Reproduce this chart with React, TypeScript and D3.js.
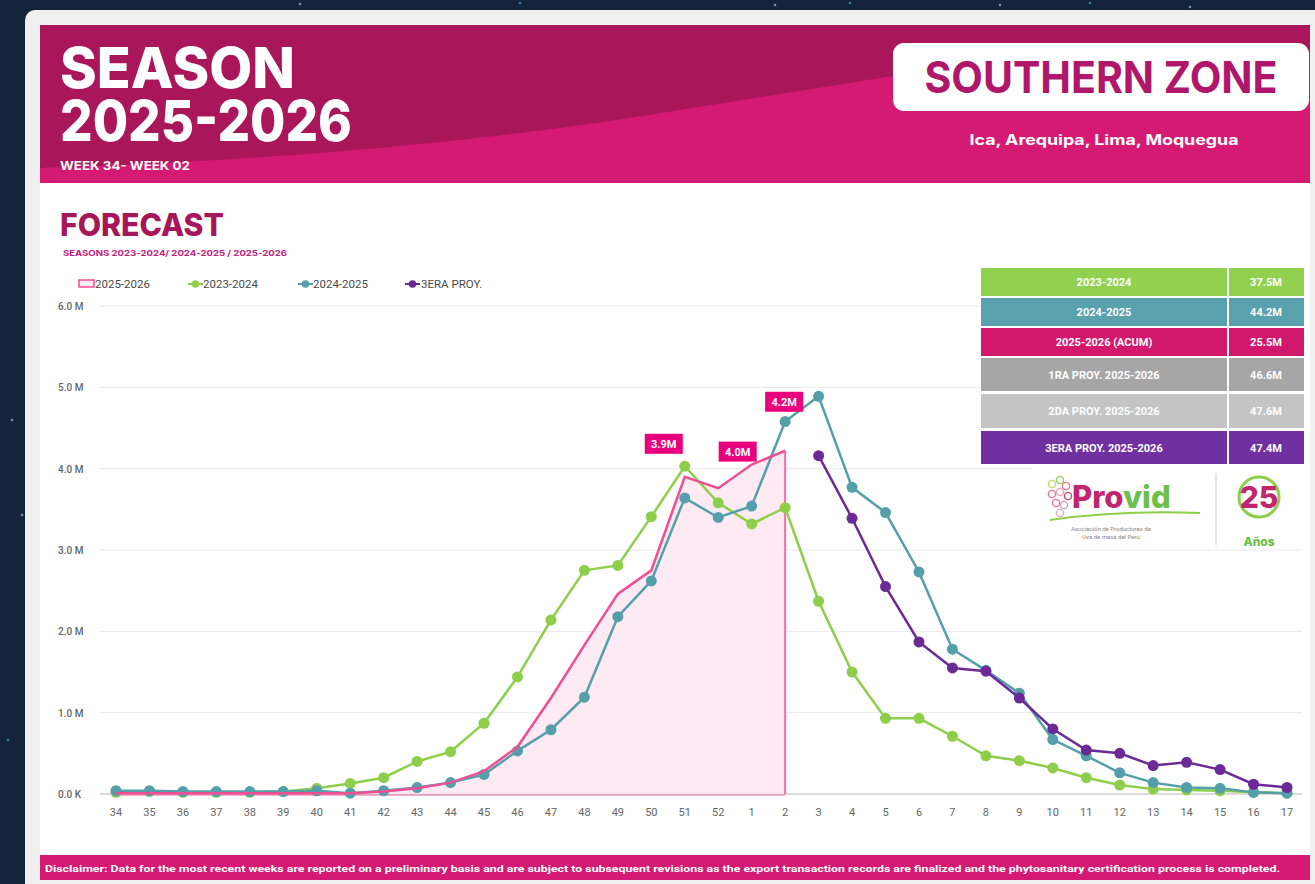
import React from "react";
import * as d3 from "d3";

const weeks = ["34","35","36","37","38","39","40","41","42","43","44","45","46","47","48","49","50","51","52","1","2","3","4","5","6","7","8","9","10","11","12","13","14","15","16","17"];

const s2023_2024 = [0.02,0.03,0.02,0.02,0.02,0.03,0.07,0.13,0.20,0.40,0.52,0.87,1.44,2.14,2.75,2.81,3.41,4.03,3.58,3.32,3.52,2.37,1.50,0.93,0.93,0.71,0.47,0.41,0.32,0.20,0.11,0.06,0.05,0.04,0.02,0.01];
const s2024_2025 = [0.04,0.04,0.03,0.03,0.03,0.03,0.04,0.01,0.04,0.08,0.14,0.24,0.53,0.79,1.19,2.18,2.62,3.64,3.40,3.54,4.58,4.89,3.77,3.46,2.73,1.78,1.52,1.24,0.67,0.47,0.26,0.14,0.08,0.07,0.02,0.01];
const s2025_2026: (number | null)[] = [0.01,0.01,0.01,0.01,0.01,0.01,0.01,0.01,0.03,0.07,0.14,0.28,0.58,1.18,1.83,2.46,2.75,3.90,3.76,4.05,4.22,null,null,null,null,null,null,null,null,null,null,null,null,null,null,null];
const s3eraProy: (number | null)[] = [null,null,null,null,null,null,null,null,null,null,null,null,null,null,null,null,null,null,null,null,null,4.16,3.39,2.55,1.87,1.55,1.51,1.18,0.80,0.54,0.50,0.35,0.39,0.30,0.12,0.08];

const yTicks = [0,1,2,3,4,5,6];
const yTickLabels = ["0.0 K","1.0 M","2.0 M","3.0 M","4.0 M","5.0 M","6.0 M"];

const pinkLabelWeeks = ["51","1","2"];
const pinkLabelTexts = ["3.9M","4.0M","4.2M"];

const legendNames = ["2025-2026","2023-2024","2024-2025","3ERA PROY."];

const tableLabels = ["2023-2024","2024-2025","2025-2026 (ACUM)","1RA PROY. 2025-2026","2DA PROY. 2025-2026","3ERA PROY. 2025-2026"];
const tableValues = ["37.5M","44.2M","25.5M","46.6M","47.6M","47.4M"];

const C = {
  green: "#8dcf4a",
  teal: "#559fab",
  purple: "#6c2a96",
  pink: "#ee4f93",
  pinkFill: "#fde9f2",
  magenta: "#d41a72",
  darkMag: "#a91659",
  label: "#e8007d",
};
const tableColors = ["#92d050", "#5aa1ae", "#d1186c", "#a6a6a6", "#c4c4c4", "#7030a0"];
const labelOffsets = [[-21, -33], [-14, -13], [-1, -49]];

export default function App() {
  const x = d3.scalePoint<string>().domain(weeks).range([116, 1287]);
  const y = d3.scaleLinear().domain([0, 6]).range([794, 306]);

  const mk = (arr: (number | null)[]) =>
    weeks.map((w, i) => ({ w, v: arr[i] }));

  const line = d3
    .line<{ w: string; v: number | null }>()
    .defined((d) => d.v !== null)
    .x((d) => x(d.w)!)
    .y((d) => y(d.v as number));

  const pinkPts = mk(s2025_2026).filter((d) => d.v !== null);
  const area = d3
    .area<{ w: string; v: number | null }>()
    .x((d) => x(d.w)!)
    .y0(y(0))
    .y1((d) => y(d.v as number));

  const series = [
    { data: s2023_2024, color: C.green },
    { data: s2024_2025, color: C.teal },
    { data: s3eraProy, color: C.purple },
  ];

  const font = "Roboto, 'Open Sans', sans-serif";
  const head = "Inter, 'Open Sans', sans-serif";

  const stars = [[40, 62], [70, 300], [22, 515], [60, 12], [300, 4], [520, 3], [775, 5], [850, 3], [1000, 5], [1090, 3], [1190, 7], [8, 740], [12, 420], [30, 620]];
  const last = pinkPts[pinkPts.length - 1];

  return (
    <svg width={1315} height={884} style={{ position: "absolute", left: 0, top: 0, display: "block" }}>
      <rect x={0} y={0} width={1315} height={884} fill="#13233a" />
      {stars.map(([sx, sy], i) => (
        <circle key={i} cx={sx} cy={sy} r={1.3} fill={i % 2 ? "#3aa6b8" : "#7fb8c8"} opacity={0.8} />
      ))}
      <rect x={25} y={10} width={1320} height={900} rx={10} fill="#f0f0f0" />
      <rect x={40} y={25} width={1270} height={830} fill="#ffffff" />

      {/* header */}
      <rect x={40} y={25} width={1270} height={158} fill={C.darkMag} />
      <path d="M40,168 Q 360,158 617,120 L 893,76 L1310,52 L1310,183 L40,183 Z" fill={C.magenta} />
      <text fill="#fff" fontFamily={head} fontWeight={800} fontSize={57}>
        <tspan x={60} y={88} textLength={235} lengthAdjust="spacingAndGlyphs">SEASON</tspan>
        <tspan x={60} y={141} textLength={292} lengthAdjust="spacingAndGlyphs">2025-2026</tspan>
      </text>
      <text x={60} y={170} fill="#fff" fontFamily={head} fontWeight={700} fontSize={12} textLength={130} lengthAdjust="spacingAndGlyphs">WEEK 34- WEEK 02</text>
      <rect x={893} y={43} width={416} height={68} rx={11} fill="#fff" />
      <text x={1101} y={93} textAnchor="middle" fill="#b0176a" fontFamily={head} fontWeight={700} fontSize={44} textLength={353} lengthAdjust="spacingAndGlyphs">SOUTHERN ZONE</text>
      <text x={1104} y={145} textAnchor="middle" fill="#fff" fontFamily={head} fontWeight={700} fontSize={14} textLength={269} lengthAdjust="spacingAndGlyphs">Ica, Arequipa, Lima, Moquegua</text>

      {/* section title */}
      <text x={60} y={236} fill="#a8165a" fontFamily={head} fontWeight={800} fontSize={31} textLength={164} lengthAdjust="spacingAndGlyphs">FORECAST</text>
      <text x={63} y={256} fill="#c2207a" fontFamily={head} fontWeight={700} fontSize={8} textLength={224} lengthAdjust="spacingAndGlyphs">SEASONS 2023-2024/ 2024-2025 / 2025-2026</text>

      {/* legend */}
      <g fontFamily={font} fontSize={11.5} fill="#4a4a4a">
        <rect x={79} y={280} width={15} height={7} fill={C.pinkFill} stroke={C.pink} strokeWidth={1.5} />
        <text x={95} y={288}>{legendNames[0]}</text>
        {[
          { x0: 188, c: C.green, t: legendNames[1], tx: 203 },
          { x0: 298, c: C.teal, t: legendNames[2], tx: 313 },
          { x0: 405, c: C.purple, t: legendNames[3], tx: 421 },
        ].map((l, i) => (
          <g key={i}>
            <line x1={l.x0} x2={l.x0 + 15} y1={284} y2={284} stroke={l.c} strokeWidth={2} />
            <circle cx={l.x0 + 7.5} cy={284} r={3.8} fill={l.c} />
            <text x={l.tx} y={288}>{l.t}</text>
          </g>
        ))}
      </g>

      {/* grid */}
      {yTicks.map((t, i) => (
        <g key={t}>
          <line x1={100} x2={1302} y1={y(t)} y2={y(t)} stroke={t === 0 ? "#cfcfcf" : "#e9e9e9"} strokeWidth={t === 0 ? 1.5 : 1} />
          <text x={58} y={y(t) + 4} fontFamily={font} fontSize={10} fontWeight={500} fill="#666">{yTickLabels[i]}</text>
        </g>
      ))}
      {weeks.map((w) => (
        <text key={w} x={x(w)} y={816} textAnchor="middle" fontFamily={font} fontSize={11} fill="#666">{w}</text>
      ))}

      {/* pink area */}
      <path d={area(pinkPts) + "Z"} fill={C.pinkFill} stroke="none" opacity={0.95} />
      <line x1={x(last.w)} x2={x(last.w)} y1={y(last.v as number)} y2={y(0)} stroke={C.pink} strokeWidth={2} opacity={0.8} />
      <line x1={x(pinkPts[0].w)} x2={x(last.w)} y1={y(0) + 1} y2={y(0) + 1} stroke={C.pink} strokeWidth={1.5} opacity={0.6} />

      {/* series */}
      {series.map((s, si) => (
        <g key={si}>
          <path d={line(mk(s.data)) || ""} fill="none" stroke={s.color} strokeWidth={2.5} />
          {mk(s.data).filter((d) => d.v !== null).map((d) => (
            <circle key={d.w} cx={x(d.w)} cy={y(d.v as number)} r={5.5} fill={s.color} />
          ))}
        </g>
      ))}
      <path d={line(pinkPts) || ""} fill="none" stroke={C.pink} strokeWidth={2.5} />

      {/* pink labels */}
      {pinkLabelWeeks.map((w, i) => {
        const idx = weeks.indexOf(w);
        const cx = x(w)! + labelOffsets[i][0];
        const cy = y(s2025_2026[idx] as number) + labelOffsets[i][1];
        return (
          <g key={w}>
            <rect x={cx - 19} y={cy - 10} width={38} height={20} fill={C.label} />
            <text x={cx} y={cy + 4} textAnchor="middle" fill="#fff" fontFamily={font} fontWeight={700} fontSize={11}>{pinkLabelTexts[i]}</text>
          </g>
        );
      })}

      {/* table */}
      {tableLabels.map((t, i) => {
        const tops = [268, 298, 328, 358, 394, 431];
        const hs = [28, 28, 28, 33, 34, 33];
        return (
          <g key={t} fontFamily={font} fontWeight={700} fontSize={11} fill="#fff">
            <rect x={981} y={tops[i]} width={246} height={hs[i]} fill={tableColors[i]} />
            <rect x={1229} y={tops[i]} width={75} height={hs[i]} fill={tableColors[i]} />
            <text x={1104} y={tops[i] + hs[i] / 2 + 4} textAnchor="middle">{t}</text>
            <text x={1266} y={tops[i] + hs[i] / 2 + 4} textAnchor="middle">{tableValues[i]}</text>
          </g>
        );
      })}

      {/* logo */}
      <rect x={1032} y={466} width={275} height={81} fill="#fff" />
      <g>
        {[[1052, 484, "#c8d86a"], [1060, 480, "#9ccc5a"], [1066, 486, "#e07a9a"], [1052, 494, "#e07a9a"], [1060, 492, "#f0a0b8"], [1068, 496, "#c04a7a"], [1056, 503, "#e07a9a"], [1064, 505, "#c8a0c0"], [1060, 513, "#e0b0c0"]].map(([cx, cy, c], i) => (
          <circle key={i} cx={cx as number} cy={cy as number} r={3.6} fill="none" stroke={c as string} strokeWidth={1.4} />
        ))}
        <text x={1072} y={508} fontFamily={head} fontWeight={800} fontSize={31}>
          <tspan fill="#c0266e">Pro</tspan>
          <tspan fill="#6cc04a">vid</tspan>
        </text>
        <path d="M1050,520 Q1120,510 1200,513" stroke="#8dcf4a" strokeWidth={2} fill="none" />
        <text textAnchor="middle" fontFamily={font} fontSize={6} fill="#888">
          <tspan x={1111} y={531}>Asociación de Productores de</tspan>
          <tspan x={1111} y={539}>Uva de mesa del Perú</tspan>
        </text>
        <line x1={1216} x2={1216} y1={473} y2={545} stroke="#ccc" strokeWidth={1} />
        <circle cx={1259} cy={497} r={20} fill="none" stroke="#8dcf4a" strokeWidth={3} />
        <text x={1259} y={508} textAnchor="middle" fontFamily={head} fontWeight={800} fontSize={30} fill="#c0266e">25</text>
        <text x={1259} y={546} textAnchor="middle" fontFamily={head} fontWeight={800} fontSize={12} fill="#6cc04a">Años</text>
      </g>

      {/* disclaimer */}
      <rect x={40} y={855} width={1270} height={25} fill={C.magenta} />
      <text x={45} y={872} fill="#fff" fontFamily={font} fontWeight={700} fontSize={9.5} textLength={1235} lengthAdjust="spacingAndGlyphs">Disclaimer: Data for the most recent weeks are reported on a preliminary basis and are subject to subsequent revisions as the export transaction records are finalized and the phytosanitary certification process is completed.</text>
    </svg>
  );
}
